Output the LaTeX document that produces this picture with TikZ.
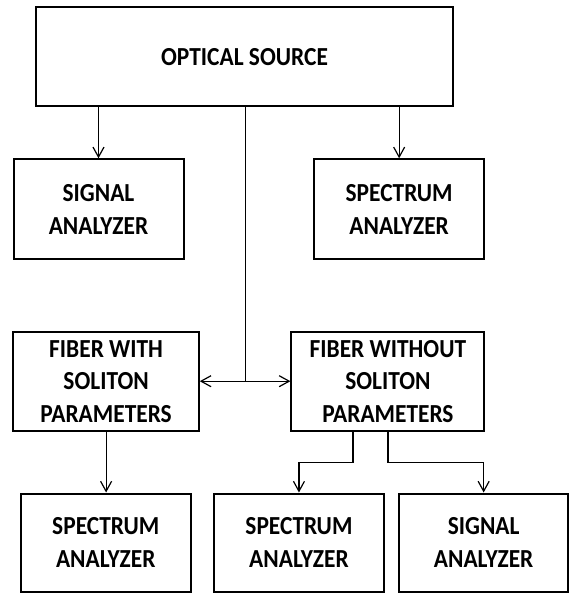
\documentclass[tikz,border=0pt]{standalone}
\usepackage{fontspec}
\setmainfont{Carlito}[FakeStretch=0.9]
\usetikzlibrary{arrows.meta}
\begin{document}
\begin{tikzpicture}[x=1pt,y=-1pt,
  box/.style={draw,line width=2pt,inner sep=0pt,align=center,
    font=\fontsize{26}{32.5}\selectfont\bfseries},
  conn/.style={line width=1.2pt},
  arr/.style={conn,-{Straight Barb[length=10pt,width=11pt]}}]
\useasboundingbox (0,0) rectangle (569,594);
\node[box,minimum width=416.5pt,minimum height=98.7pt] (src) at (244.55,56.65) {OPTICAL SOURCE};
\node[box,minimum width=170pt,minimum height=100pt] (sa1) at (98.5,209.3) {SIGNAL\\ANALYZER};
\node[box,minimum width=170.3pt,minimum height=100pt] (spa1) at (399.15,209.3) {SPECTRUM\\ANALYZER};
\node[box,minimum width=185.4pt,minimum height=99pt] (fw) at (106.1,381.2) {FIBER WITH\\SOLITON\\PARAMETERS};
\node[box,minimum width=193pt,minimum height=99pt] (fwo) at (387.9,381.2) {FIBER WITHOUT\\SOLITON\\PARAMETERS};
\node[box,minimum width=169.5pt,minimum height=98pt] (b1) at (105.75,542.5) {SPECTRUM\\ANALYZER};
\node[box,minimum width=169.1pt,minimum height=98pt] (b2) at (298.95,542.5) {SPECTRUM\\ANALYZER};
\node[box,minimum width=168.7pt,minimum height=98pt] (b3) at (483.65,542.5) {SIGNAL\\ANALYZER};
\coordinate (j) at (245.6,381.2);
\coordinate (k1) at (353,462.3);
\coordinate (k2) at (388,462.3);
\draw[arr] (src.south -| sa1.north) -- (sa1.north);
\draw[arr] (src.south -| spa1.north) -- (spa1.north);
\draw[conn] (src.south -| j) -- (j);
\draw[arr] (j) -- (fw.east);
\draw[arr] (j) -- (fwo.west);
\draw[arr] (fw.south) -- (fw.south |- b1.north);
\draw[arr] (fwo.south -| k1) -- (k1) -| (b2.north);
\draw[arr] (fwo.south -| k2) -- (k2) -| (b3.north);
\end{tikzpicture}
\end{document}
